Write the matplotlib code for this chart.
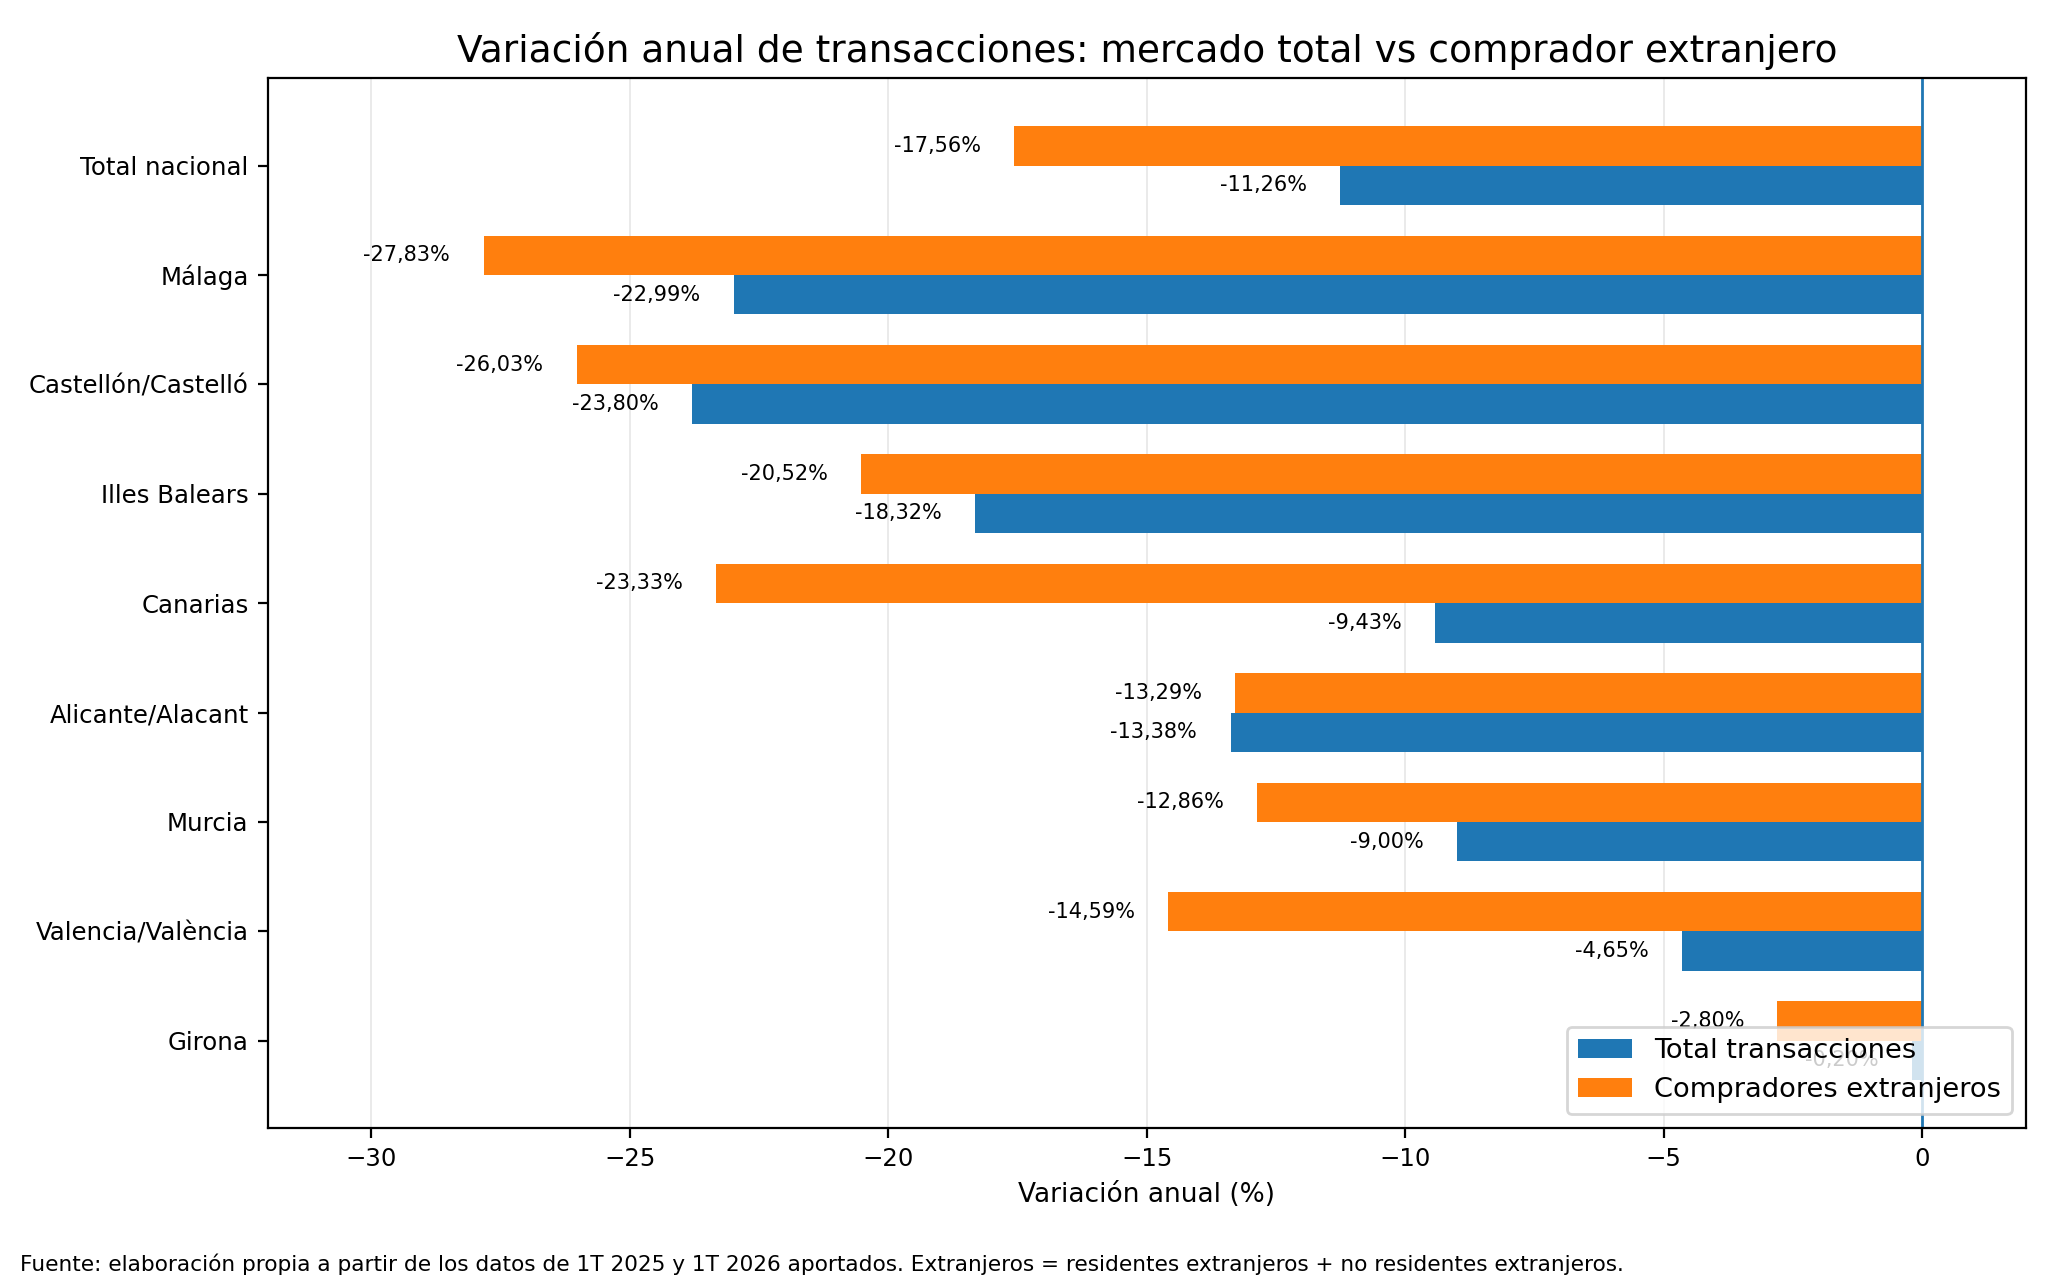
import matplotlib.pyplot as plt
import numpy as np

regions = ['Total nacional', 'Málaga', 'Castellón/Castelló', 'Illes Balears', 'Canarias',
           'Alicante/Alacant', 'Murcia', 'Valencia/València', 'Girona']
total = [-11.26, -22.99, -23.80, -18.32, -9.43, -13.38, -9.00, -4.65, -0.20]
extranjeros = [-17.56, -27.83, -26.03, -20.52, -23.33, -13.29, -12.86, -14.59, -2.80]

fig = plt.figure(figsize=(10.23, 6.43), dpi=200)
ax = fig.add_axes([0.131, 0.123, 0.859, 0.816])

y = np.arange(len(regions))
h = 0.36
b1 = ax.barh(y + h / 2, total, height=h, color='#1f77b4', label='Total transacciones')
b2 = ax.barh(y - h / 2, extranjeros, height=h, color='#ff7f0e', label='Compradores extranjeros')

def fmt(v):
    return f'{v:.2f}%'.replace('.', ',')

for bars, vals in ((b1, total), (b2, extranjeros)):
    for bar, v in zip(bars, vals):
        ax.annotate(fmt(v), xy=(v, bar.get_y() + bar.get_height() / 2),
                    xytext=(-12, 0), textcoords='offset points',
                    ha='right', va='center', fontsize=7.5)

ax.axvline(0, color='#1f77b4', linewidth=1)
ax.set_yticks(y)
ax.set_yticklabels(regions, fontsize=8.8)
ax.invert_yaxis()
ax.set_xlim(-32, 2)
ax.tick_params(axis='x', labelsize=8.8)
ax.xaxis.grid(True, color='#e6e6e6', linewidth=0.6)
ax.set_axisbelow(True)
ax.set_xlabel('Variación anual (%)', fontsize=9.5)
ax.set_title('Variación anual de transacciones: mercado total vs comprador extranjero', fontsize=13.5)
ax.legend(loc='lower right', fontsize=9.8)

fig.text(0.01, 0.012, 'Fuente: elaboración propia a partir de los datos de 1T 2025 y 1T 2026 aportados. '
         'Extranjeros = residentes extranjeros + no residentes extranjeros.', fontsize=7.8)

fig.savefig('out.png', dpi=200)
